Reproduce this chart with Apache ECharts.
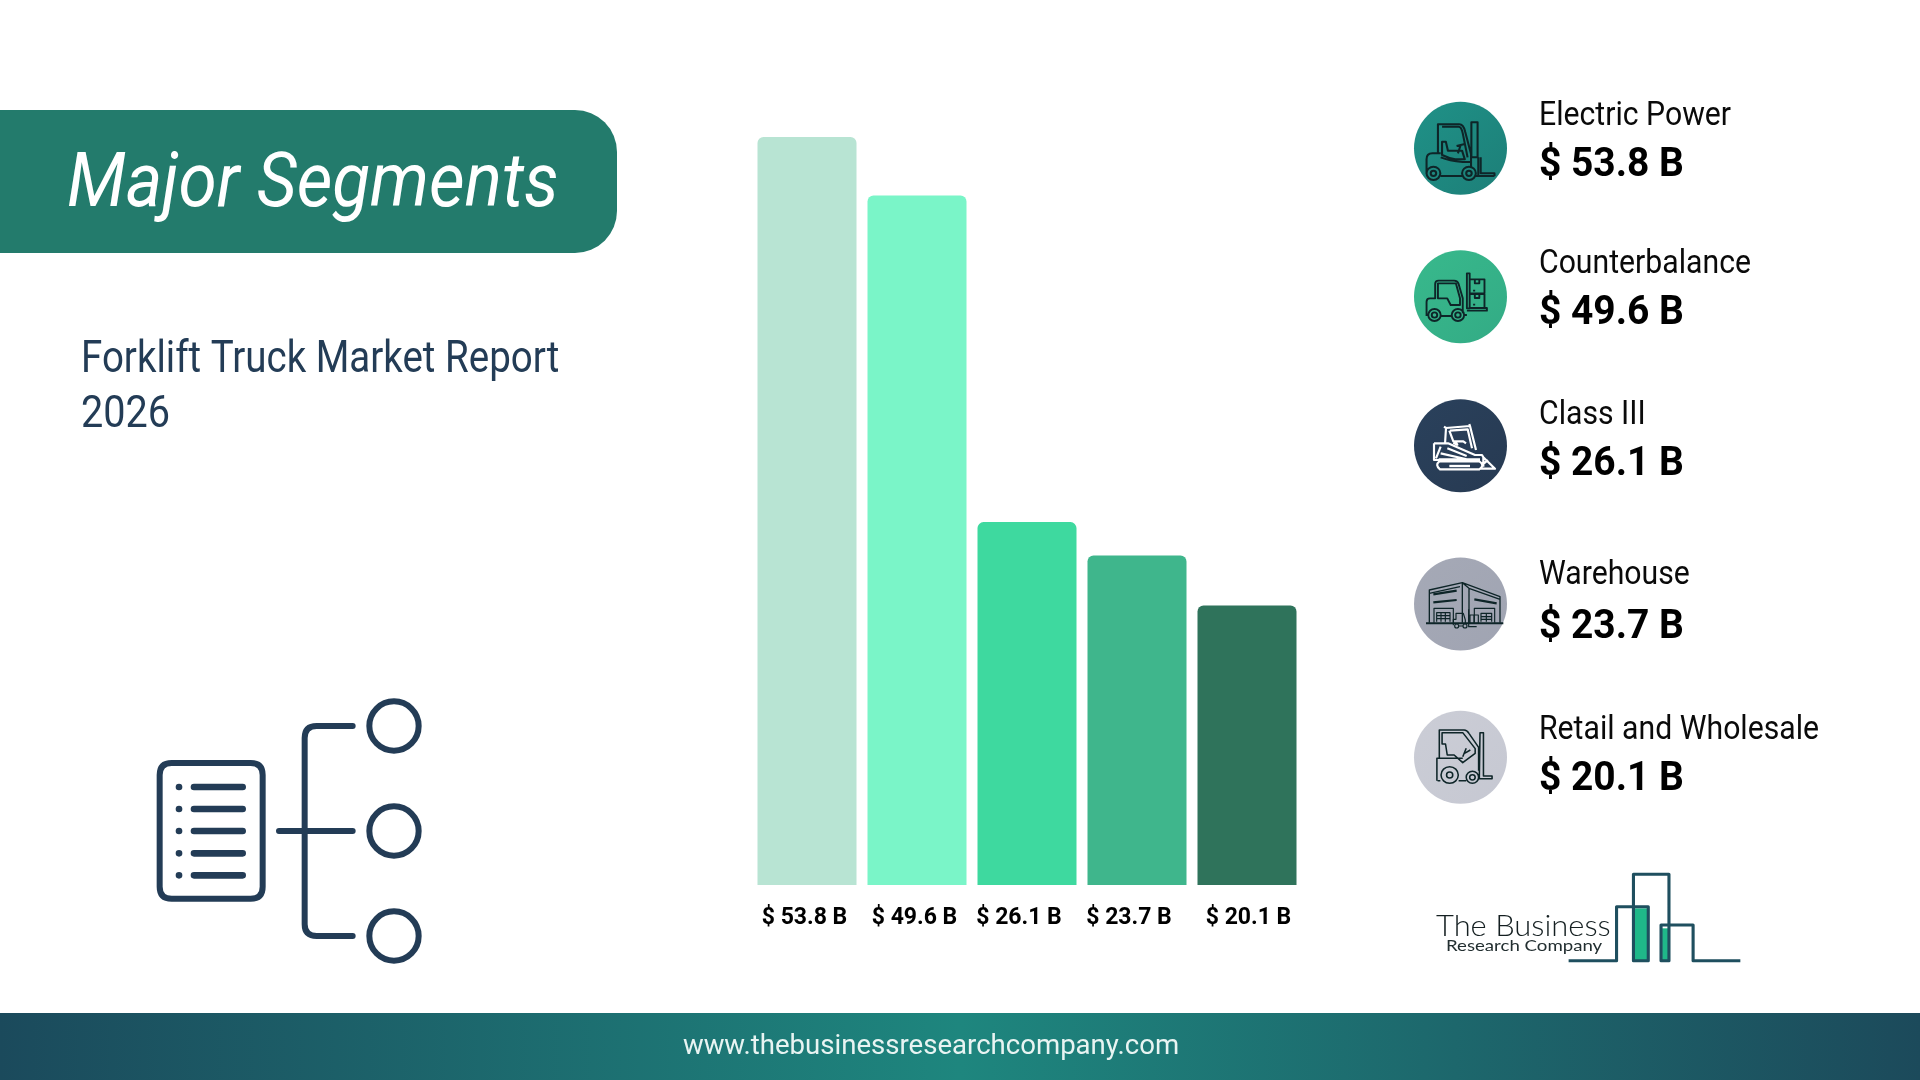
<!DOCTYPE html>
<html>
<head>
<meta charset="utf-8">
<title>Major Segments</title>
<script src="https://cdn.jsdelivr.net/npm/echarts@6/dist/echarts.min.js"></script>
<style>
  html, body { margin: 0; padding: 0; background: #fff; }
  #chart { width: 1920px; height: 1080px; }
</style>
</head>
<body>
<div id="chart"></div>
<script>
const segments = ['Electric Power', 'Counterbalance', 'Class III', 'Warehouse', 'Retail and Wholesale']
const marketValues = [53.8, 49.6, 26.1, 23.7, 20.1]
const tickLabels = ['$ 53.8 B', '$ 49.6 B', '$ 26.1 B', '$ 23.7 B', '$ 20.1 B']
const barColors = ['#b8e4d3', '#7af5c8', '#3ed99f', '#3fb68c', '#2f735b']
const tickShifts = [5, 5, 16, 16, -3]

const navy = '#233c56'
const iconDark = '#0e2528'

function ring (cx, cy, r) {
  return 'M' + (cx - r) + ' ' + cy + 'a' + r + ' ' + r + ' 0 1 0 ' + (2 * r) + ' 0a' + r + ' ' + r + ' 0 1 0 ' + (-2 * r) + ' 0Z'
}

// the graphic component has no plain path type, so each outline is registered as a shape
let shapeCount = 0
function stroked (d, color, width, cap) {
  const name = 'outline' + (shapeCount++)
  echarts.graphic.registerShape(name, echarts.graphic.extendPath(d))
  return { type: name, style: { fill: 'none', stroke: color, lineWidth: width, lineCap: cap || 'butt', lineJoin: 'round' } }
}

function traced (originY, children) {
  return { type: 'group', x: 1380, y: originY, scaleX: 1 / 2.9, scaleY: 1 / 3, children: children }
}
function tracedTight (originY, children) {
  return { type: 'group', x: 1420, y: originY, scaleX: 1 / 3, scaleY: 1 / 3, children: children }
}

const forkliftOne = traced(70, [stroked(
  ring(155, 310, 20) + ring(155, 310, 8) + ring(258, 310, 20) + ring(258, 310, 8) +
  'M135 312 V268 Q135 250 152 250 H176 M176 318 H238 M278 318 H285' +
  'M168 250 V163 H230 Q242 163 247 185 L264 252 V292' +
  'M180 170 H228 Q236 170 240 190 L254 262 M176 262 Q200 272 240 276 H264' +
  'M265 157 H283 V262 H265 Z M285 262 V318 H332 M292 262 V310 H332 V318' +
  'M180 215 V255 Q200 265 218 268 H246 L238 242 H197 L191 215 Z M222 228 L246 222 M234 225 L226 250',
  iconDark, 6)])

const forkliftTwo = traced(70, [stroked(
  ring(158, 735, 18) + ring(158, 735, 8) + ring(226, 735, 18) + ring(226, 735, 8) +
  'M135 738 V695 Q135 685 145 685 H160 V642 Q160 632 170 632 H215 Q225 632 228 642 L240 685 V730 M176 738 H208 M244 735 H252' +
  'M168 640 H220 L232 685 V705 H205 L195 685 H168 Z' +
  'M252 610 H260 V715 H252 Z M252 722 H310 V714 H260' +
  'M260 628 H303 V670 H260 Z M260 672 H303 V714 H260 Z M275 628 V640 H288 V628 M275 672 V684 H288 V672 M270 662 H276 M270 704 H276',
  iconDark, 5.5)])

const skidLoader = tracedTight(400, [stroked(
  'M75 132 L78 84 L150 78 L168 150 M72 80 L78 84 M148 72 L150 78' +
  'M88 92 L100 124 H130 L138 130 M90 92 L143 88 L156 145' +
  'M42 130 H84 L165 165 H186 L190 172 V200 M42 130 V180 H60 M62 140 L48 175 M100 128 L112 134 L108 128' +
  'M82 145 L140 168 M62 160 L150 180 M56 178 H180' +
  'M58 184 H178 Q196 195 178 208 H60 Q44 195 58 184 Z' +
  'M190 172 L225 206 H180 M192 190 L204 180',
  '#ffffff', 6.5), stroked('M88 198 H150', '#ffffff', 7)])

const warehouse = tracedTight(560, [
  stroked('M18 190 H250', iconDark, 6),
  stroked('M28 188 V90 L127 68 L240 110 V188 M28 100 L120 80 M127 68 V188 M147 85 V188 M127 68 L147 85 L240 118', iconDark, 4),
  stroked('M40 103 L110 92 M40 127 L110 120 M163 118 L230 130', iconDark, 6.5),
  stroked('M42 188 V145 H100 V188 M50 185 V158 H90 V185 M50 167 H90 M50 176 H90 M63 158 V185 M76 158 V185', iconDark, 3.5),
  stroked('M163 188 V145 H224 V188 M183 185 V160 H215 V185 M183 170 H215 M183 178 H215 M199 160 V185', iconDark, 3.5),
  stroked(ring(110, 198, 6) + ring(135, 198, 6) + 'M100 196 V178 H108 V160 H130 L136 180 V192 M116 198 H129 M146 148 V200 H170 M150 165 H175 V190 H150 Z M162 165 V190', iconDark, 3.5)
])

const forkliftThree = traced(540, [stroked(
  ring(202, 705, 25) + ring(202, 705, 9) + ring(268, 712, 18) + ring(268, 712, 8) +
  'M165 722 V655 H172 V570 H244 Q252 570 258 580 L286 622 V692 M167 722 H175 M228 722 H250' +
  'M180 578 H240 L276 626 V640 L240 668 L215 645 H195 L190 612 H180 Z M172 655 H240 M250 625 L240 650 M262 630 L245 640' +
  'M290 578 H300 V708 H325 V716 H288 Z',
  iconDark, 4.5)])

const docIcon = { type: 'group', x: 100, y: 660, scaleX: 1 / 3, scaleY: 1 / 3, children: [
  stroked('M215 309 H452 Q488 309 488 345 V680 Q488 716 452 716 H215 Q179 716 179 680 V345 Q179 309 215 309 Z', navy, 18),
  stroked('M282 381 H428 M282 447 H428 M282 513 H428 M282 580 H428 M282 646 H428', navy, 20, 'round'),
  stroked('M237 381 H237.1 M237 447 H237.1 M237 513 H237.1 M237 580 H237.1 M237 646 H237.1', navy, 20, 'round'),
  stroked('M537 513 H758 M758 198 H650 Q614 198 614 234 V793 Q614 828 650 828 H758', navy, 18, 'round'),
  stroked(ring(882, 198, 74) + ring(882, 513, 74) + ring(882, 828, 74), navy, 18)
] }

const logoMark = traced(540, [
  { type: 'rect', shape: { x: 735, y: 1105, width: 41, height: 155 }, style: { fill: '#1fb889' } },
  { type: 'rect', shape: { x: 818, y: 1165, width: 19, height: 95 }, style: { fill: '#1fb889' } },
  stroked('M547 1262 H686 V1100 H778 V1262 H735 V1003 H838 V1262 H815 V1155 H908 V1262 H1045', '#1f4f5f', 9)
])

function label (text, x, y, size, color, weight, sx, italic, align) {
  return {
    type: 'text', x: x, y: y + size * 0.1, scaleX: sx,
    style: {
      text: text, fill: color, align: align || 'left', verticalAlign: 'middle',
      font: (italic ? 'italic ' : '') + weight + ' ' + size + 'px Roboto, sans-serif'
    }
  }
}

const circleFills = [['#1f9187', '#1d7f78'], ['#38b98c', '#33ab85'], ['#2a415c', '#273a52'], ['#a5a9b6', '#a0a4b2'], ['#cbcdd6', '#c6c8d2']]
const circleY = [148.3, 296.7, 445.7, 604, 757.3]
const nameY = [113, 261, 412, 572, 727]
const valueY = [162, 310, 461, 624, 776]

const legendItems = []
segments.forEach(function (name, i) {
  legendItems.push({
    type: 'circle', shape: { cx: 1460.5, cy: circleY[i], r: 46.5 },
    style: { fill: new echarts.graphic.LinearGradient(0, 0, 1, 1, [{ offset: 0, color: circleFills[i][0] }, { offset: 1, color: circleFills[i][1] }]) }
  })
  legendItems.push(label(name, 1539, nameY[i], 33, '#0a0a0a', 400, 0.915))
  legendItems.push(label(tickLabels[i], 1539, valueY[i], 41, '#000000', 700, 0.95))
})

const chart = echarts.init(document.getElementById('chart'))
const option = {
  animation: false,
  backgroundColor: '#ffffff',
  grid: { left: 752, top: 137, width: 550, height: 748 },
  xAxis: {
    type: 'category',
    data: tickLabels.map(function (t, i) {
      return { value: t, textStyle: { padding: [0, Math.max(tickShifts[i], 0), 0, Math.max(-tickShifts[i], 0)] } }
    }),
    axisLine: { show: false },
    axisTick: { show: false },
    axisLabel: { interval: 0, margin: 22, color: '#000000', fontFamily: 'Roboto', fontWeight: 700, fontSize: 23 }
  },
  yAxis: { type: 'value', min: 0, max: 53.8, show: false },
  series: [{
    type: 'bar',
    barWidth: 99,
    data: marketValues.map(function (v, i) {
      return { value: v, itemStyle: { color: barColors[i], borderRadius: [6, 6, 0, 0] } }
    })
  }],
  graphic: { elements: [
    { type: 'rect', shape: { x: 0, y: 110, width: 617, height: 143, r: [0, 42, 42, 0] }, style: { fill: '#237b6c' } },
    label('Major Segments', 67, 180, 75, '#ffffff', 400, 0.925, true),
    label('Forklift Truck Market Report', 81, 357, 44, navy, 400, 0.875),
    label('2026', 81, 412, 44, navy, 400, 0.9),
    docIcon,
    ...legendItems,
    forkliftOne, forkliftTwo, skidLoader, warehouse, forkliftThree,
    logoMark,
    { type: 'text', x: 1436, y: 926, scaleX: 1.03, style: { text: 'The Business', fill: '#141f21', verticalAlign: 'middle', font: '300 30px Lato, sans-serif' } },
    { type: 'text', x: 1446, y: 946, scaleX: 1.165, style: { text: 'Research Company', fill: '#222e30', verticalAlign: 'middle', font: '400 16px Lato, sans-serif' } },
    {
      type: 'rect', shape: { x: 0, y: 1013, width: 1920, height: 67 },
      style: { fill: new echarts.graphic.LinearGradient(0, 0, 1, 0, [{ offset: 0, color: '#1b4a5c' }, { offset: 0.5, color: '#1e867e' }, { offset: 1, color: '#1c4a5b' }]) }
    },
    label('www.thebusinessresearchcompany.com', 931, 1044, 28, '#e8f4f2', 400, 0.985, false, 'center')
  ] }
}
chart.setOption(option)
</script>
</body>
</html>
